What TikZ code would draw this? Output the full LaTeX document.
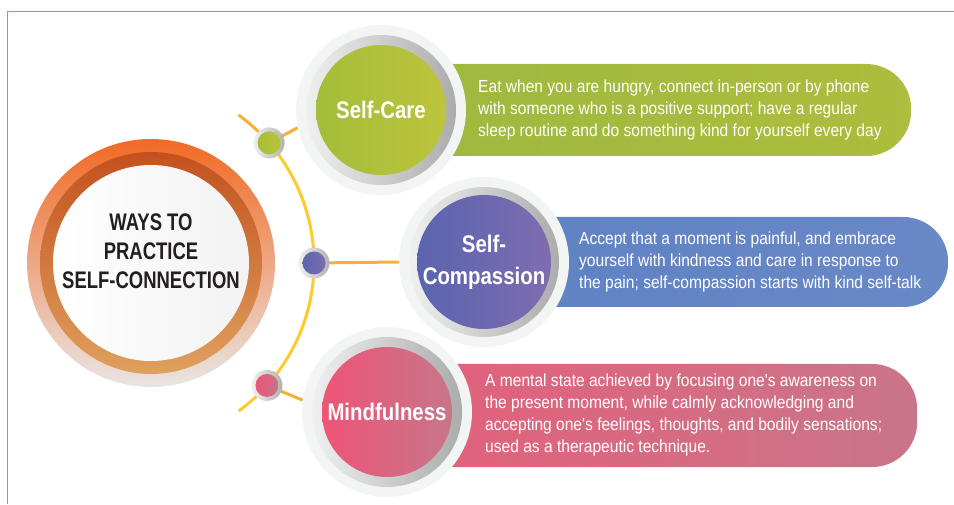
\documentclass[tikz,border=0pt]{standalone}
\usepackage{fontspec}
\setmainfont{Liberation Sans}
\newfontfamily\titlefont{Liberation Sans}[FakeStretch=0.77]
\newfontfamily\headfont{Liberation Sans}[FakeStretch=0.85]
\newfontfamily\bodyfont{Liberation Sans}[FakeStretch=0.89]
\usetikzlibrary{positioning,calc,backgrounds}

\definecolor{framecol}{HTML}{5FB0B4}
\definecolor{halogrey}{HTML}{F3F5F5}
\definecolor{arcyellow}{HTML}{FECB2B}
\definecolor{arcorange}{HTML}{F7AF34}
\definecolor{titleblack}{HTML}{231F20}
\definecolor{mainorange}{HTML}{F16A24}
\definecolor{mainfade}{HTML}{E9E5E3}
\definecolor{ringdark}{HTML}{C3511F}
\definecolor{ringlight}{HTML}{DFA05E}
\definecolor{greenL}{HTML}{A4BD3A}
\definecolor{greenR}{HTML}{BCC43B}
\definecolor{greenboxL}{HTML}{9DB83E}
\definecolor{greenboxR}{HTML}{ADBD3D}
\definecolor{purpleL}{HTML}{5A64AE}
\definecolor{purpleR}{HTML}{7E6DB0}
\definecolor{blueboxL}{HTML}{5E82C3}
\definecolor{blueboxR}{HTML}{6A88C6}
\definecolor{pinkL}{HTML}{EE5476}
\definecolor{pinkR}{HTML}{C7768A}
\definecolor{pinkboxL}{HTML}{E55F7B}
\definecolor{pinkboxR}{HTML}{C97589}

\begin{document}
\begin{tikzpicture}[x=1pt, y=1pt,
    halo/.style = {circle, fill=halogrey, minimum size=170pt, inner sep=0pt},
    ring/.style = {circle, left color=gray!12, right color=gray!65, minimum size=150pt, inner sep=0pt},
    disc/.style = {circle, minimum size=130pt, inner sep=0pt, text=white, align=center,
                   font=\headfont\bfseries\fontsize{24}{32}\selectfont},
    box/.style = {rectangle, rounded corners=45pt, anchor=west, inner sep=0pt},
    blurb/.style = {anchor=west, align=left, inner sep=0pt, text=white,
                    font=\bodyfont\fontsize{17.5}{21.7}\selectfont},
    knob/.style = {circle, left color=gray!12, right color=gray!60, minimum size=31pt, inner sep=0pt},
    dot/.style = {circle, minimum size=23pt, inner sep=0pt},
    spoke/.style = {draw=arcorange, line width=3pt}]
    \useasboundingbox (0,0) rectangle (954,504);
    \coordinate (arcc) at (131,241);
    % central circle
    \node[circle, top color=mainorange, bottom color=mainfade, minimum size=248pt] (mainout) at (151,241) {};
    \node[circle, top color=ringdark, bottom color=ringlight, minimum size=222pt] (mainring) at (mainout) {};
    \node[circle, left color=white, right color=gray!10, minimum size=196pt] (main) at (mainout) {};
    \node[align=center, text=titleblack, font=\titlefont\bfseries\fontsize{24}{29}\selectfont] (maintitle) at (151,253) {WAYS TO\\PRACTICE\\SELF-CONNECTION};
    % the three ways
    \node[halo] (carehalo) at (381,394) {};
    \node[ring] (carering) at (carehalo) {};
    \node[disc, left color=greenL, right color=greenR] (care) at (carehalo) {Self-Care};
    \node[halo] (comphalo) at (484,242) {};
    \node[ring] (compring) at (comphalo) {};
    \node[disc, left color=purpleL, right color=purpleR] (comp) at (comphalo) {Self-\\Compassion};
    \node[halo] (mindhalo) at (387,92) {};
    \node[ring] (mindring) at (mindhalo) {};
    \node[disc, left color=pinkL, right color=pinkR] (mind) at (mindhalo) {Mindfulness};
    % dots on the arc
    \node[knob] (knobcare) at ([shift={(41:183pt)}]arcc) {};
    \node[dot, left color=greenL, right color=greenR] (dotcare) at (knobcare) {};
    \node[knob] (knobcomp) at ([shift={(0:183pt)}]arcc) {};
    \node[dot, left color=purpleL, right color=purpleR] (dotcomp) at (knobcomp) {};
    \node[knob] (knobmind) at ([shift={(-42:183pt)}]arcc) {};
    \node[dot, left color=pinkL, right color=pinkR] (dotmind) at (knobmind) {};
    % texts
    \node[blurb] (caretext) at (478,394) {Eat when you are hungry, connect in-person or by phone\\with someone who is a positive support; have a regular\\sleep routine and do something kind for yourself every day};
    \node[blurb] (comptext) at (579,242) {Accept that a moment is painful, and embrace\\yourself with kindness and care in response to\\the pain; self-compassion starts with kind self-talk};
    \node[blurb] (mindtext) at (485,89) {A mental state achieved by focusing one's awareness on\\the present moment, while calmly acknowledging and\\accepting one's feelings, thoughts, and bodily sensations;\\used as a therapeutic technique.};
    \begin{scope}[on background layer]
        \draw[framecol, line width=1.6pt] (7.5,0) |- (954,492.5);
        \node[box, left color=greenboxL, right color=greenboxR, minimum width=530pt, minimum height=92pt] (carebox) at (care.center) {};
        \node[box, left color=blueboxL, right color=blueboxR, minimum width=464pt, minimum height=90pt] (compbox) at (comp.center) {};
        \node[box, left color=pinkboxL, right color=pinkboxR, minimum width=530pt, minimum height=103pt] (mindbox) at (387,88.5) {};
        \draw[arcorange, line width=3pt] ([shift={(54:183pt)}]arcc) arc[start angle=54, end angle=41, radius=183pt];
        \draw[arcyellow, line width=3pt] ([shift={(41:183pt)}]arcc) arc[start angle=41, end angle=-54, radius=183pt];
        \draw[spoke] (knobcare.center) -- (carehalo.192);
        \draw[spoke] (knobcomp.center) -- (comphalo.180);
        \draw[spoke] (knobmind.center) -- (mindhalo.172);
    \end{scope}
\end{tikzpicture}
\end{document}
